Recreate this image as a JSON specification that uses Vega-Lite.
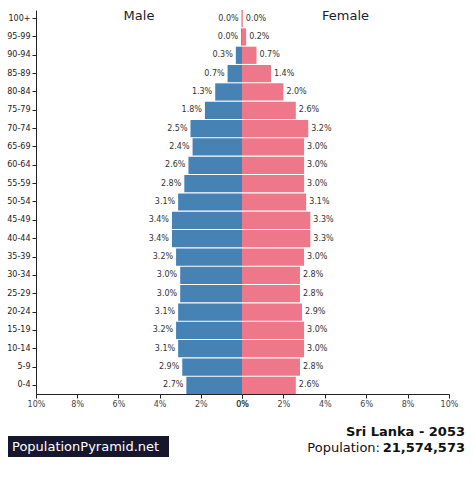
{
  "$schema": "https://vega.github.io/schema/vega-lite/v6.json",
  "padding": {"left": 5, "top": 9, "right": 5, "bottom": 5},
  "background": "white",
  "config": {
    "font": "DejaVu Sans",
    "view": {"stroke": null},
    "axis": {"labelFont": "DejaVu Sans", "labelFontSize": 8, "domainColor": "#222", "tickColor": "#222", "labelColor": "#333", "grid": false, "title": null, "tickSize": 4, "labelFlush": false}
  },
  "datasets": {
    "pop": [
      {"age": "100+", "sex": "Male", "share": 0.0002}, {"age": "100+", "sex": "Female", "share": 0.0004},
      {"age": "95-99", "sex": "Male", "share": 0.0004}, {"age": "95-99", "sex": "Female", "share": 0.002},
      {"age": "90-94", "sex": "Male", "share": 0.003}, {"age": "90-94", "sex": "Female", "share": 0.007},
      {"age": "85-89", "sex": "Male", "share": 0.007}, {"age": "85-89", "sex": "Female", "share": 0.014},
      {"age": "80-84", "sex": "Male", "share": 0.013}, {"age": "80-84", "sex": "Female", "share": 0.020},
      {"age": "75-79", "sex": "Male", "share": 0.018}, {"age": "75-79", "sex": "Female", "share": 0.026},
      {"age": "70-74", "sex": "Male", "share": 0.025}, {"age": "70-74", "sex": "Female", "share": 0.032},
      {"age": "65-69", "sex": "Male", "share": 0.024}, {"age": "65-69", "sex": "Female", "share": 0.030},
      {"age": "60-64", "sex": "Male", "share": 0.026}, {"age": "60-64", "sex": "Female", "share": 0.030},
      {"age": "55-59", "sex": "Male", "share": 0.028}, {"age": "55-59", "sex": "Female", "share": 0.030},
      {"age": "50-54", "sex": "Male", "share": 0.031}, {"age": "50-54", "sex": "Female", "share": 0.031},
      {"age": "45-49", "sex": "Male", "share": 0.034}, {"age": "45-49", "sex": "Female", "share": 0.033},
      {"age": "40-44", "sex": "Male", "share": 0.034}, {"age": "40-44", "sex": "Female", "share": 0.033},
      {"age": "35-39", "sex": "Male", "share": 0.032}, {"age": "35-39", "sex": "Female", "share": 0.030},
      {"age": "30-34", "sex": "Male", "share": 0.030}, {"age": "30-34", "sex": "Female", "share": 0.028},
      {"age": "25-29", "sex": "Male", "share": 0.030}, {"age": "25-29", "sex": "Female", "share": 0.028},
      {"age": "20-24", "sex": "Male", "share": 0.031}, {"age": "20-24", "sex": "Female", "share": 0.029},
      {"age": "15-19", "sex": "Male", "share": 0.032}, {"age": "15-19", "sex": "Female", "share": 0.030},
      {"age": "10-14", "sex": "Male", "share": 0.031}, {"age": "10-14", "sex": "Female", "share": 0.030},
      {"age": "5-9", "sex": "Male", "share": 0.029}, {"age": "5-9", "sex": "Female", "share": 0.028},
      {"age": "0-4", "sex": "Male", "share": 0.027}, {"age": "0-4", "sex": "Female", "share": 0.026}
    ]
  },
  "spacing": 11,
  "vconcat": [
    {
      "hconcat": [
        {
          "width": 206, "height": 384,
          "data": {"name": "pop"},
          "encoding": {
            "y": {"field": "age", "type": "nominal",
              "sort": ["100+","95-99","90-94","85-89","80-84","75-79","70-74","65-69","60-64","55-59","50-54","45-49","40-44","35-39","30-34","25-29","20-24","15-19","10-14","5-9","0-4"],
              "scale": {"paddingInner": 0.06, "paddingOuter": 0},
              "axis": {"title": null, "minExtent": 31, "maxExtent": 31, "labelPadding": 2, "labelColor": "#222"}}
          },
          "layer": [
            {
              "transform": [{"filter": "datum.sex == 'Male'"}],
              "mark": {"type": "bar", "color": "#4682b4"},
              "encoding": {
                "x": {"field": "share", "type": "quantitative",
                  "scale": {"domain": [0, 0.1], "reverse": true},
                  "axis": {"format": ".0%", "values": [0, 0.02, 0.04, 0.06, 0.08, 0.1], "minExtent": 18, "maxExtent": 18, "labelColor": "#444", "labelPadding": 2}}
              }
            },
            {
              "transform": [{"filter": "datum.sex == 'Male'"}],
              "mark": {"type": "text", "align": "right", "dx": -3, "fontSize": 8, "color": "#333"},
              "encoding": {
                "x": {"field": "share", "type": "quantitative"},
                "text": {"field": "share", "type": "quantitative", "format": ".1%"}
              }
            },
            {
              "data": {"values": [{"t": "Male"}]},
              "mark": {"type": "text", "fontSize": 13, "color": "#1c1c30", "dy": -3},
              "encoding": {
                "x": {"datum": 0.05},
                "y": {"datum": "100+"},
                "text": {"field": "t"}
              }
            }
          ]
        },
        {
          "width": 207, "height": 384,
          "data": {"name": "pop"},
          "encoding": {
            "y": {"field": "age", "type": "nominal",
              "sort": ["100+","95-99","90-94","85-89","80-84","75-79","70-74","65-69","60-64","55-59","50-54","45-49","40-44","35-39","30-34","25-29","20-24","15-19","10-14","5-9","0-4"],
              "scale": {"paddingInner": 0.06, "paddingOuter": 0},
              "axis": null}
          },
          "layer": [
            {
              "transform": [{"filter": "datum.sex == 'Female'"}],
              "mark": {"type": "bar", "color": "#ee7889"},
              "encoding": {
                "x": {"field": "share", "type": "quantitative",
                  "scale": {"domain": [0, 0.1]},
                  "axis": {"format": ".0%", "values": [0, 0.02, 0.04, 0.06, 0.08, 0.1], "minExtent": 18, "maxExtent": 18, "labelColor": "#444", "labelPadding": 2}}
              }
            },
            {
              "transform": [{"filter": "datum.sex == 'Female'"}],
              "mark": {"type": "text", "align": "left", "dx": 3, "fontSize": 8, "color": "#333"},
              "encoding": {
                "x": {"field": "share", "type": "quantitative"},
                "text": {"field": "share", "type": "quantitative", "format": ".1%"}
              }
            },
            {
              "data": {"values": [{"t": "Female"}]},
              "mark": {"type": "text", "fontSize": 13, "color": "#1c1c30", "dy": -3},
              "encoding": {
                "x": {"datum": 0.05},
                "y": {"datum": "100+"},
                "text": {"field": "t"}
              }
            }
          ]
        }
      ],
      "spacing": 0,
      "bounds": "flush"
    },
    {
      "width": 430, "height": 40,
      "data": {"values": [{"site": "PopulationPyramid.net", "title": "Sri Lanka - 2053", "caption": "Population:", "population": 21574573}]},
      "layer": [
        {
          "mark": {"type": "rect", "color": "#16162e"},
          "encoding": {
            "x": {"datum": 8, "type": "quantitative", "scale": {"domain": [36, 466], "nice": false, "zero": false}, "axis": null},
            "x2": {"datum": 169},
            "y": {"datum": 435, "type": "quantitative", "scale": {"domain": [422, 462], "reverse": true, "nice": false, "zero": false}, "axis": null},
            "y2": {"datum": 456}
          }
        },
        {
          "mark": {"type": "text", "align": "left", "baseline": "alphabetic", "fontSize": 13, "color": "white"},
          "encoding": {"x": {"datum": 12}, "y": {"datum": 450}, "text": {"field": "site"}}
        },
        {
          "mark": {"type": "text", "align": "right", "baseline": "alphabetic", "fontSize": 13, "fontWeight": "bold", "color": "#111"},
          "encoding": {"x": {"datum": 465}, "y": {"datum": 435}, "text": {"field": "title"}}
        },
        {
          "mark": {"type": "text", "align": "right", "baseline": "alphabetic", "fontSize": 13, "color": "#111"},
          "encoding": {"x": {"datum": 380}, "y": {"datum": 451}, "text": {"field": "caption"}}
        },
        {
          "mark": {"type": "text", "align": "right", "baseline": "alphabetic", "fontSize": 13, "fontWeight": "bold", "color": "#111"},
          "encoding": {"x": {"datum": 465}, "y": {"datum": 451}, "text": {"field": "population", "type": "quantitative", "format": ","}}
        }
      ]
    }
  ]
}
